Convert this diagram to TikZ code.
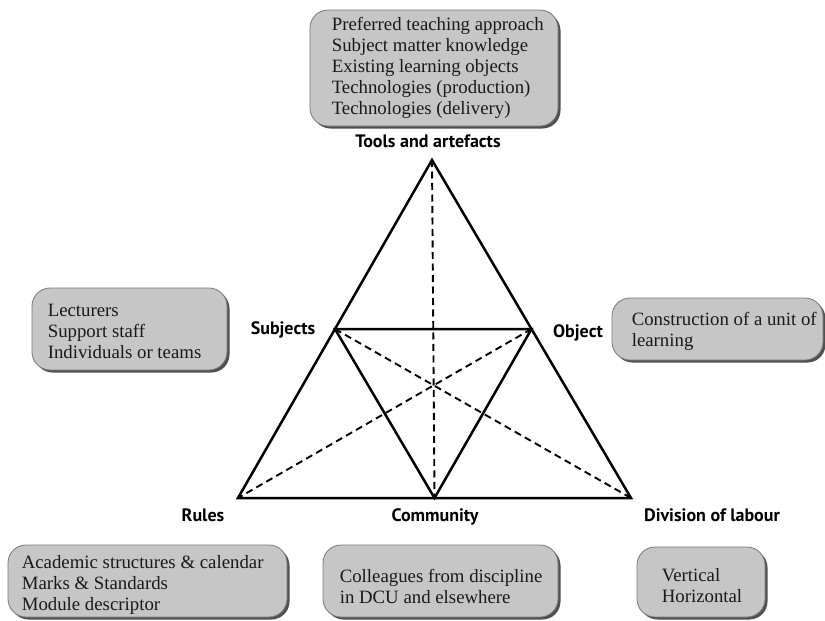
\documentclass[tikz,border=0pt]{standalone}
\usepackage{fontspec}
\setmainfont{Liberation Serif}
\newfontfamily\labfont{PT Sans}
\usetikzlibrary{shadows,calc}
\definecolor{boxgray}{RGB}{198,198,198}
\definecolor{boxedge}{RGB}{120,120,120}
\definecolor{shadowgray}{RGB}{80,80,80}
\definecolor{txt}{RGB}{25,25,25}
\begin{document}
\begin{tikzpicture}[x=1pt,y=-1pt,
  boxshape/.style={draw=boxedge, line width=0.8pt, fill=boxgray, rounded corners=18pt, inner sep=0pt,
    drop shadow={shadow xshift=2.5pt, shadow yshift=-2.5pt, fill=shadowgray, opacity=1}},
  boxtext/.style={align=left, anchor=west, inner sep=0pt, text=txt, font=\fontsize{18.8}{21}\selectfont},
  lab/.style={font=\labfont\bfseries\fontsize{18}{20}\selectfont, inner sep=0pt, text=black},
  solidline/.style={line width=2.5pt, line join=miter, line cap=round},
  dashline/.style={line width=1.9pt, dash pattern=on 7pt off 4.5pt}]
\useasboundingbox (0,0) rectangle (825,621);
% triangle vertices
\coordinate (A) at (432,160);
\coordinate (B) at (238,498);
\coordinate (C) at (631,498);
\coordinate (S) at ($(A)!0.5!(B)$);
\coordinate (O) at ($(A)!0.5!(C)$);
\coordinate (M) at ($(B)!0.5!(C)$);
% dashed lines
\draw[dashline] (A) -- (M);
\draw[dashline] (S) -- (C);
\draw[dashline] (O) -- (B);
% solid triangles
\draw[solidline] (A) -- (B) -- (C) -- cycle;
\draw[solidline] (S) -- (O) -- (M) -- cycle;
% labels
\node[lab] (ltools) at (428,141) {Tools and artefacts};
\node[lab] (lsubj) at (283,330) {Subjects};
\node[lab] (lobj) at (578,333) {Object};
\node[lab] (lrules) at (203,515) {Rules};
\node[lab] (lcomm) at (435,517) {Community};
\node[lab] (ldiv) at (712,515) {Division of labour};
% boxes
\node[boxshape, minimum width=248, minimum height=116] (btop) at (434,68) {};
\node[boxtext] (ttop) at ([xshift=22pt]btop.west) {Preferred teaching approach\\Subject matter knowledge\\Existing learning objects\\Technologies (production)\\Technologies (delivery)};
\node[boxshape, minimum width=195, minimum height=82] (bleft) at (129.5,329) {};
\node[boxtext] (tleft) at ([xshift=16pt,yshift=-2pt]bleft.west) {Lecturers\\Support staff\\Individuals or teams};
\node[boxshape, minimum width=211, minimum height=62] (bright) at (717.5,329) {};
\node[boxtext] (tright) at ([xshift=20pt,yshift=-2pt]bright.west) {Construction of a unit of\\learning};
\node[boxshape, minimum width=279, minimum height=72] (brules) at (147.5,581) {};
\node[boxtext] (trules) at ([xshift=14pt,yshift=-4pt]brules.west) {Academic structures \& calendar\\Marks \& Standards\\Module descriptor};
\node[boxshape, minimum width=235, minimum height=72] (bcomm) at (440.5,581) {};
\node[boxtext] (tcomm) at ([xshift=17pt,yshift=-5pt]bcomm.west) {Colleagues from discipline\\in DCU and elsewhere};
\node[boxshape, minimum width=128, minimum height=70] (bdiv) at (701,582) {};
\node[boxtext] (tdiv) at ([xshift=25pt,yshift=-4pt]bdiv.west) {Vertical\\Horizontal};
\end{tikzpicture}
\end{document}
